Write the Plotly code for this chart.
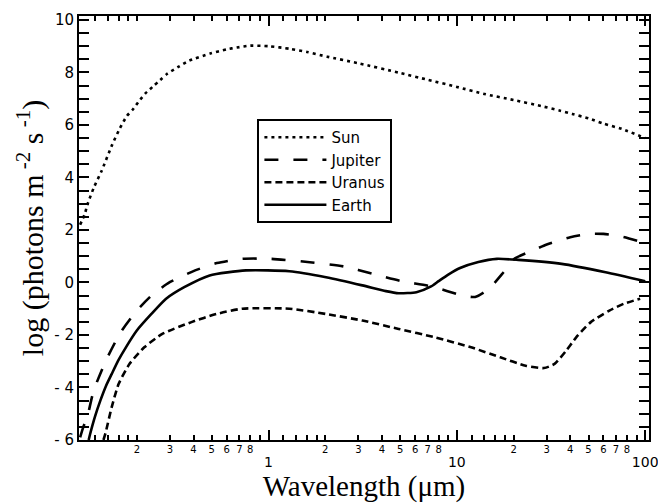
import plotly.graph_objects as go

# ---------------- data ----------------
lam_sun = [0.100, 0.102, 0.106, 0.109, 0.118, 0.13, 0.148, 0.162, 0.177, 0.189, 0.204,
           0.222, 0.245, 0.266, 0.289, 0.33, 0.38, 0.49, 0.6, 0.68, 0.8, 1.0, 1.3, 1.6,
           2.05, 3.0, 5.0, 7.0, 10, 14, 20, 28, 35, 41, 50, 60, 75, 100]
val_sun = [2.2, 2.34, 2.62, 2.94, 3.6, 4.25, 5.25, 5.85, 6.34, 6.56, 6.88,
           7.2, 7.48, 7.71, 7.94, 8.2, 8.45, 8.72, 8.88, 8.95, 9.02, 9.0, 8.9, 8.78,
           8.6, 8.35, 7.98, 7.72, 7.45, 7.18, 6.95, 6.72, 6.55, 6.42, 6.25, 6.05, 5.85, 5.5]

lam_jupiter = [0.100, 0.104, 0.109, 0.118, 0.137, 0.164, 0.2, 0.239, 0.299, 0.408, 0.532,
               0.723, 1.03, 1.61, 2.51, 3.58, 5.1, 7.3, 10.8, 12.5, 14.8, 17.7, 20.2,
               25.3, 30, 40, 50, 60, 75, 100]
val_jupiter = [-5.9, -5.5, -5.14, -4.12, -2.98, -1.9, -1.07, -0.5, 0.01, 0.46, 0.74,
               0.9, 0.9, 0.78, 0.61, 0.33, 0.05, -0.15, -0.5, -0.55, -0.24, 0.39, 0.9,
               1.22, 1.45, 1.72, 1.85, 1.85, 1.75, 1.5]

lam_uranus = [0.133, 0.136, 0.147, 0.16, 0.183, 0.219, 0.273, 0.39, 0.53, 0.726, 1.29,
              2.02, 3.15, 4.91, 7.65, 11.9, 17, 23.2, 29, 33, 38, 43, 51.4, 64.5, 77, 94]
val_uranus = [-6.0, -5.77, -4.76, -3.87, -3.1, -2.47, -1.96, -1.51, -1.2, -1.0, -1.0,
              -1.2, -1.45, -1.77, -2.09, -2.47, -2.85, -3.17, -3.26, -3.1, -2.6, -2.09,
              -1.51, -1.07, -0.81, -0.62]

lam_earth = [0.111, 0.113, 0.12, 0.128, 0.137, 0.147, 0.16, 0.175, 0.2, 0.239, 0.286,
             0.357, 0.487, 0.76, 1.29, 2.02, 3.15, 4.2, 4.91, 6.1, 7.3, 8.0, 9.0, 10.4,
             13, 16.3, 21.2, 36, 61.6, 100]
val_earth = [-6.0, -5.77, -5.1, -4.5, -3.95, -3.49, -2.95, -2.47, -1.83, -1.2, -0.62,
             -0.18, 0.27, 0.46, 0.43, 0.2, -0.11, -0.33, -0.41, -0.37, -0.15, 0.05, 0.3,
             0.55, 0.78, 0.9, 0.86, 0.71, 0.39, 0.05]

series_names = ["Sun", "Jupiter", "Uranus", "Earth"]

# axis ticks
x_major = [1, 10, 100]
x_major_text = ["1", "10", "100"]
x_minor_labeled = [0.2, 0.3, 0.4, 0.5, 0.6, 0.7, 0.8,
                   2, 3, 4, 5, 6, 7, 8,
                   20, 30, 40, 50, 60, 70, 80]
x_minor_text = ["2", "3", "4", "5", "6", "7", "8"] * 3
x_minor_ticks = [0.12, 0.14, 0.16, 0.18, 0.2, 0.3, 0.4, 0.5, 0.6, 0.7, 0.8, 0.9,
                 1.2, 1.4, 1.6, 1.8, 2, 3, 4, 5, 6, 7, 8, 9,
                 12, 14, 16, 18, 20, 30, 40, 50, 60, 70, 80, 90]
y_major = [-6, -4, -2, 0, 2, 4, 6, 8, 10]
y_major_text = ["- 6", "- 4", "- 2", "0", "2", "4", "6", "8", "10"]

# ---------------- figure ----------------
styles = {
    "Sun": "3px,4px",
    "Jupiter": "14px,15px",
    "Uranus": "7px,4px",
    "Earth": "solid",
}
data = {
    "Sun": (lam_sun, val_sun),
    "Jupiter": (lam_jupiter, val_jupiter),
    "Uranus": (lam_uranus, val_uranus),
    "Earth": (lam_earth, val_earth),
}

fig = go.Figure()
for name in series_names:
    lx, ly = data[name]
    fig.add_trace(go.Scatter(
        x=lx, y=ly, mode="lines", name=name,
        line=dict(color="black", width=2.6, dash=styles[name],
                  shape="spline", smoothing=0.6),
        hoverinfo="skip",
    ))
# invisible carrier for the overlaid minor-label axis
fig.add_trace(go.Scatter(x=[1], y=[None], xaxis="x2", mode="lines",
                         showlegend=False, hoverinfo="skip"))

SANS = "DejaVu Sans"
xr = [-1.006, 2.02]
fig.update_layout(
    width=658, height=504,
    margin=dict(l=79, r=9, t=16, b=64),
    plot_bgcolor="white", paper_bgcolor="white",
    font=dict(family=SANS, color="black"),
    showlegend=True,
    legend=dict(x=0.313, y=0.757, xanchor="left", yanchor="top",
                bordercolor="black", borderwidth=2, bgcolor="white",
                font=dict(size=15, family=SANS),
                itemwidth=62, tracegroupgap=0),
    xaxis=dict(
        type="log", range=xr, showgrid=False, zeroline=False,
        showline=True, linecolor="black", linewidth=2, mirror="allticks",
        tickmode="array", tickvals=x_major, ticktext=x_major_text,
        ticks="inside", ticklen=10, tickwidth=2, tickcolor="black",
        tickfont=dict(size=14, family=SANS), ticklabelstandoff=8,
        ticklabeloverflow="allow",
        minor=dict(tickmode="array", tickvals=x_minor_ticks, ticks="inside",
                   ticklen=5, tickwidth=1.5, tickcolor="black", showgrid=False),
        title=dict(text="Wavelength (μm)",
                   font=dict(family="Liberation Serif", size=29), standoff=6),
        automargin=False,
    ),
    xaxis2=dict(
        type="log", range=xr, overlaying="x", anchor="y", side="bottom",
        showgrid=False, zeroline=False, showline=False,
        tickmode="array", tickvals=x_minor_labeled, ticktext=x_minor_text,
        ticks="", tickfont=dict(size=10, family=SANS), ticklabelstandoff=2,
        automargin=False,
    ),
    yaxis=dict(
        range=[-6, 10.15], showgrid=False, zeroline=False,
        showline=True, linecolor="black", linewidth=2, mirror="allticks",
        tickmode="array", tickvals=y_major, ticktext=y_major_text,
        ticks="inside", ticklen=10, tickwidth=2, tickcolor="black",
        tickfont=dict(size=15, family=SANS),
        minor=dict(tickmode="linear", tick0=0, dtick=0.5, ticks="inside",
                   ticklen=5, tickwidth=1.5, tickcolor="black", showgrid=False),
        title=dict(text="log (photons m<sup> -2</sup> s<sup> -1</sup>)",
                   font=dict(family="Liberation Serif", size=30), standoff=2),
        automargin=False,
    ),
)

fig.write_html("out.html")
